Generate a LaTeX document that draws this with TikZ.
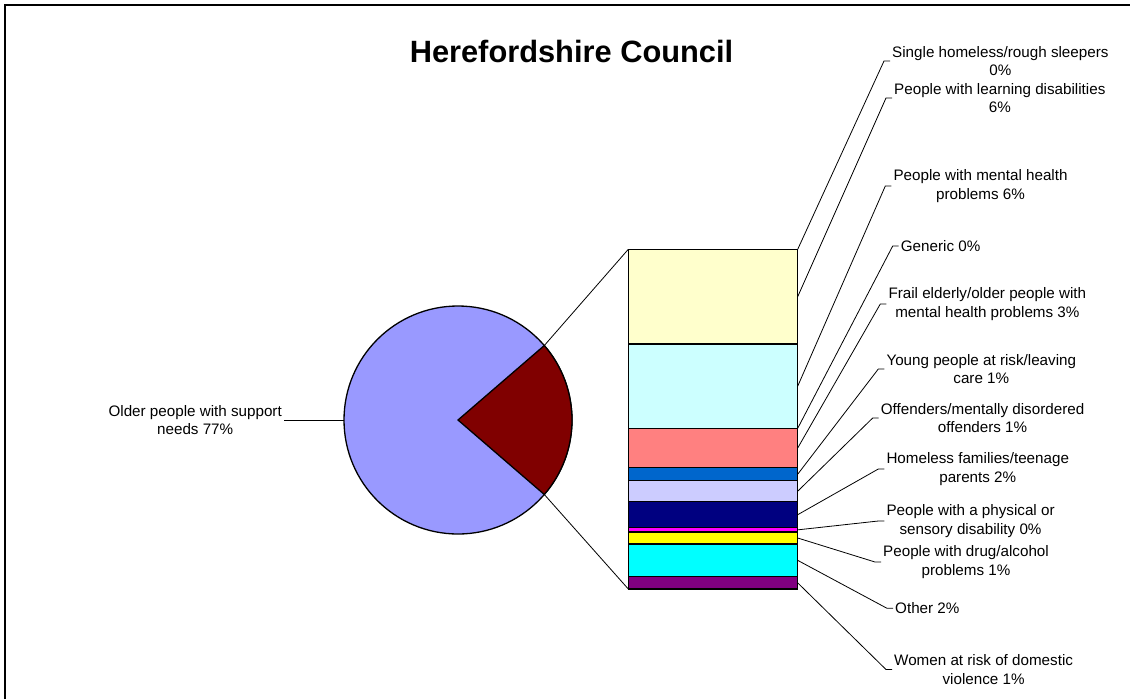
\documentclass[tikz,border=0pt]{standalone}
\usepackage{fontspec}
\setmainfont{Liberation Sans}

\definecolor{pieblue}{HTML}{9999FF}
\definecolor{piered}{HTML}{800000}
\definecolor{barcream}{HTML}{FFFFCC}
\definecolor{barcyan}{HTML}{CCFFFF}
\definecolor{barsalmon}{HTML}{FF8080}
\definecolor{barblue}{HTML}{0066CC}
\definecolor{barlav}{HTML}{CCCCFF}
\definecolor{barnavy}{HTML}{000080}
\definecolor{barpink}{HTML}{FF00FF}
\definecolor{baryellow}{HTML}{FFFF00}
\definecolor{baraqua}{HTML}{00FFFF}
\definecolor{barpurple}{HTML}{800080}

\tikzset{
  lbl/.style={anchor=west, align=center, inner sep=2pt,
    font=\fontsize{15.2}{18.6}\selectfont},
  lead/.style={line width=0.8pt},
  seg/.style={draw=black, line width=1.3pt}
}

\begin{document}
\begin{tikzpicture}[x=1pt,y=-1pt]
  \useasboundingbox (0,0) rectangle (1131,699);
  \draw[line width=2.2pt] (5,699) -- (5,5) -- (1130,5);

  \node[font=\bfseries\fontsize{30.8}{36}\selectfont, anchor=base] (title) at (571.5,62.5) {Herefordshire Council};

  % pie
  \coordinate (o) at (458,420);
  \draw[fill=pieblue, line width=1.3pt] (o) circle (114);
  \filldraw[fill=piered, line width=1.3pt] (o) -- ++(-40.8:114) arc (-40.8:40.8:114) -- cycle;
  \path (o) ++(-40.8:114) coordinate (pie-t);
  \path (o) ++(40.8:114) coordinate (pie-b);
  \path (o) ++(180:114) coordinate (pie-w);

  % bar of pie
  \coordinate (bar-tl) at (628.3,249.3);
  \coordinate (bar-bl) at (628.3,589);
  \foreach \ya/\yb/\c/\n in {249.3/344/barcream/learn, 344/428.3/barcyan/mental,
      428.3/467.7/barsalmon/frail, 467.7/480.7/barblue/young,
      480.7/501.7/barlav/offend, 501.7/527.7/barnavy/homeless,
      527.7/532/barpink/physical, 532/544/baryellow/drug,
      544/576.7/baraqua/other, 576.7/589/barpurple/women}{
    \filldraw[seg, fill=\c] (628.3,\ya) rectangle (797.7,\yb);
    \coordinate (p-\n) at (797.7,{(\ya+\yb)/2});
  }
  \coordinate (p-single) at (797.7,249.3);
  \coordinate (p-generic) at (797.7,428.3);

  \draw[lead] (pie-t) -- (bar-tl);
  \draw[lead] (pie-b) -- (bar-bl);

  % labels
  \node[lbl, anchor=east] (l-older) at (284,420) {Older people with support\\needs 77\%};
  \draw[lead] (pie-w) -- (l-older.east);

  \node[lbl] (l-single) at (890,61) {Single homeless/rough sleepers\\0\%};
  \node[lbl] (l-learn) at (892,98) {People with learning disabilities\\6\%};
  \node[lbl] (l-mental) at (891.3,186) {People with mental health\\problems 6\%};
  \node[lbl] (l-generic) at (898.7,246) {Generic 0\%};
  \node[lbl] (l-frail) at (886.3,304) {Frail elderly/older people with\\mental health problems 3\%};
  \node[lbl] (l-young) at (884.3,369) {Young people at risk/leaving\\care 1\%};
  \node[lbl] (l-offend) at (878.7,418) {Offenders/mentally disordered\\offenders 1\%};
  \node[lbl] (l-homeless) at (884.3,469) {Homeless families/teenage\\parents 2\%};
  \node[lbl] (l-physical) at (884.3,521) {People with a physical or\\sensory disability 0\%};
  \node[lbl] (l-drug) at (881,562) {People with drug/alcohol\\problems 1\%};
  \node[lbl] (l-other) at (893,608.3) {Other 2\%};
  \node[lbl] (l-women) at (892,669.5) {Women at risk of domestic\\violence 1\%};

  \foreach \n in {single,learn,mental,generic,frail,young,offend,homeless,physical,drug,other,women}
    \draw[lead] (p-\n) -- ([xshift=-6pt]l-\n.west) -- (l-\n.west);
\end{tikzpicture}
\end{document}
